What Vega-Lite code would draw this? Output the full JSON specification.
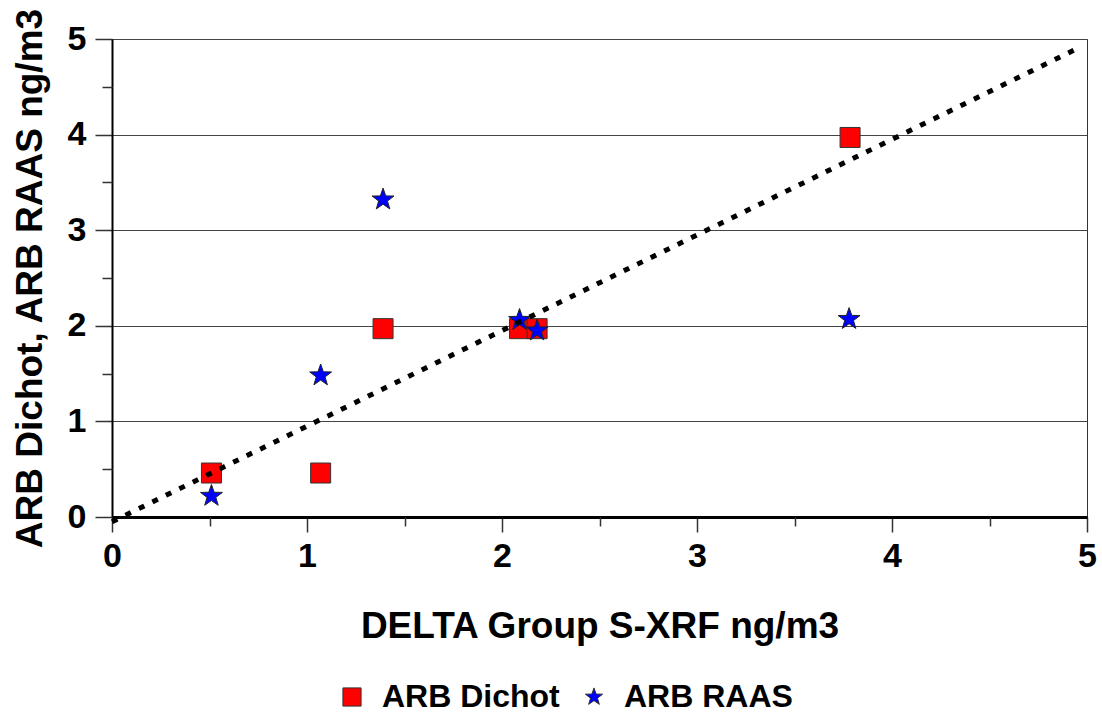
{
  "$schema": "https://vega.github.io/schema/vega-lite/v6.json",
  "width": 975,
  "height": 478,
  "autosize": {"type": "none"},
  "padding": {"left": 112, "top": 39, "right": 15, "bottom": 200},
  "background": "white",
  "config": {
    "view": {"stroke": "#333333", "strokeWidth": 1},
    "font": "Liberation Sans"
  },
  "datasets": {
    "points": [
      {"series": "ARB Dichot", "x": 0.51, "y": 0.46},
      {"series": "ARB Dichot", "x": 1.07, "y": 0.46},
      {"series": "ARB Dichot", "x": 1.39, "y": 1.97},
      {"series": "ARB Dichot", "x": 2.09, "y": 1.97},
      {"series": "ARB Dichot", "x": 2.18, "y": 1.97},
      {"series": "ARB Dichot", "x": 3.785, "y": 3.97},
      {"series": "ARB RAAS", "x": 0.51, "y": 0.22},
      {"series": "ARB RAAS", "x": 1.07, "y": 1.48},
      {"series": "ARB RAAS", "x": 1.39, "y": 3.32},
      {"series": "ARB RAAS", "x": 2.09, "y": 2.06},
      {"series": "ARB RAAS", "x": 2.18, "y": 1.95},
      {"series": "ARB RAAS", "x": 3.78, "y": 2.07}
    ],
    "line": [
      {"x": 0, "y": -0.05},
      {"x": 4.97, "y": 4.92}
    ]
  },
  "resolve": {"axis": {"x": "independent", "y": "independent"}},
  "layer": [
    {
      "data": {"name": "points"},
      "transform": [{"filter": "datum.series === 'ARB Dichot'"}],
      "mark": {"type": "point", "filled": true, "size": 400, "stroke": "#333333", "strokeWidth": 1, "opacity": 1},
      "encoding": {
        "x": {
          "field": "x", "type": "quantitative",
          "scale": {"domain": [0, 5], "nice": false, "zero": true},
          "axis": {
            "orient": "bottom",
            "title": "DELTA Group S-XRF ng/m3",
            "values": [0, 1, 2, 3, 4, 5],
            "format": "d",
            "grid": false,
            "domainColor": "#000000",
            "domainWidth": 3,
            "tickColor": "#333333",
            "tickWidth": 1.5,
            "tickSize": 15,
            "labelFont": "Liberation Sans",
            "labelFontSize": 34,
            "labelFontWeight": "bold",
            "labelColor": "#000000",
            "labelPadding": 7,
            "labelFlush": false,
            "labelOverlap": false,
            "titleFont": "Liberation Sans",
            "titleFontSize": 37,
            "titleFontWeight": "bold",
            "titleColor": "#000000",
            "titlePadding": 35
          }
        },
        "y": {
          "field": "y", "type": "quantitative",
          "scale": {"domain": [0, 5], "nice": false, "zero": true},
          "axis": {
            "orient": "left",
            "title": "ARB Dichot, ARB RAAS ng/m3",
            "values": [0, 1, 2, 3, 4, 5],
            "format": "d",
            "grid": true,
            "gridColor": "#444444",
            "gridWidth": 1.2,
            "domainColor": "#000000",
            "domainWidth": 2,
            "tickColor": "#333333",
            "tickWidth": 1.5,
            "tickSize": 17,
            "labelFont": "Liberation Sans",
            "labelFontSize": 34,
            "labelFontWeight": "bold",
            "labelColor": "#000000",
            "labelPadding": 9,
            "labelFlush": false,
            "labelOverlap": false,
            "titleFont": "Liberation Sans",
            "titleFontSize": 37,
            "titleFontWeight": "bold",
            "titleColor": "#000000",
            "titlePadding": 18
          }
        },
        "color": {
          "field": "series", "type": "nominal",
          "scale": {"domain": ["ARB Dichot", "ARB RAAS"], "range": ["#FF0000", "#0000FF"]},
          "legend": {
            "title": null,
            "orient": "none",
            "legendX": 224,
            "legendY": 642,
            "direction": "horizontal",
            "symbolSize": 330,
            "symbolStrokeColor": "#333333",
            "symbolStrokeWidth": 1,
            "labelFont": "Liberation Sans",
            "labelFontSize": 32,
            "labelFontWeight": "bold",
            "labelColor": "#000000",
            "labelOffset": 14,
            "columnPadding": 18,
            "labelLimit": 400
          }
        },
        "shape": {
          "field": "series", "type": "nominal",
          "scale": {"domain": ["ARB Dichot", "ARB RAAS"], "range": ["square", "M0,-1L0.235,-0.324L0.951,-0.309L0.38,0.124L0.588,0.809L0,0.4L-0.588,0.809L-0.38,0.124L-0.951,-0.309L-0.235,-0.324Z"]}
        }
      }
    },
    {
      "data": {"name": "points"},
      "transform": [{"filter": "datum.series === 'ARB RAAS'"}],
      "mark": {"type": "point", "filled": true, "size": 530, "stroke": "#222222", "strokeWidth": 1, "opacity": 1},
      "encoding": {
        "x": {
          "field": "x", "type": "quantitative",
          "axis": {
            "orient": "bottom",
            "title": null,
            "values": [0.5, 1.5, 2.5, 3.5, 4.5],
            "labels": false,
            "domain": false,
            "grid": false,
            "tickColor": "#333333",
            "tickWidth": 1.5,
            "tickSize": 9
          }
        },
        "y": {
          "field": "y", "type": "quantitative",
          "axis": {
            "orient": "left",
            "title": null,
            "values": [0.5, 1.5, 2.5, 3.5, 4.5],
            "labels": false,
            "domain": false,
            "grid": false,
            "tickColor": "#333333",
            "tickWidth": 1.5,
            "tickSize": 10
          }
        },
        "color": {"field": "series", "type": "nominal"},
        "shape": {"field": "series", "type": "nominal"}
      }
    },
    {
      "data": {"name": "line"},
      "mark": {"type": "line", "color": "#000000", "strokeWidth": 5, "strokeDash": [6, 9], "strokeCap": "butt", "clip": false},
      "encoding": {
        "x": {"field": "x", "type": "quantitative", "axis": null},
        "y": {"field": "y", "type": "quantitative", "axis": null}
      }
    }
  ]
}
